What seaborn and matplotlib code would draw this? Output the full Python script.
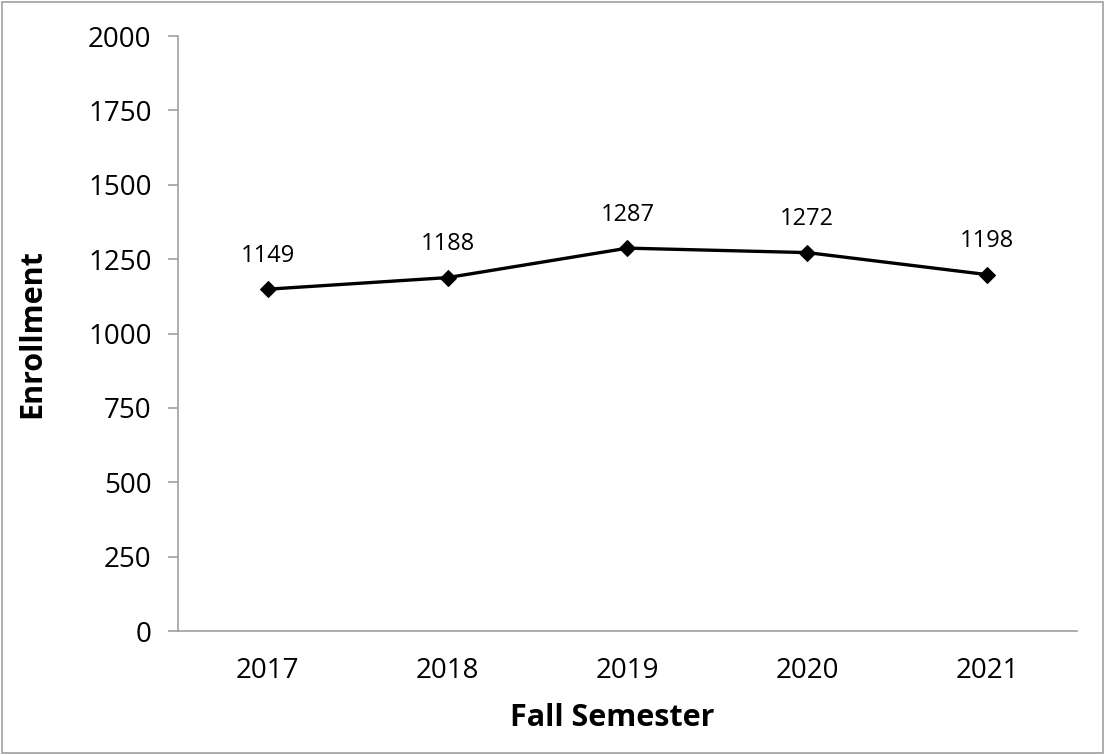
import seaborn as sns
import matplotlib.pyplot as plt
import pandas as pd
from matplotlib.patches import Rectangle

# Enrollment by fall semester
years = ['2017', '2018', '2019', '2020', '2021']
enrollment = [1149, 1188, 1287, 1272, 1198]
y_ticks = [0, 250, 500, 750, 1000, 1250, 1500, 1750, 2000]

df = pd.DataFrame({'year': years, 'enrollment': enrollment})

sns.set_style('white')
plt.rcParams['font.family'] = ['Open Sans', 'DejaVu Sans']
plt.rcParams['text.color'] = 'black'
plt.rcParams['xtick.labelcolor'] = 'black'
plt.rcParams['ytick.labelcolor'] = 'black'
plt.rcParams['axes.labelcolor'] = 'black'

fig = plt.figure(figsize=(11.05, 7.55), dpi=100)
ax = fig.add_axes([0.161, 0.1642, 0.8137, 0.7881])

sns.lineplot(data=df, x='year', y='enrollment', ax=ax, color='black',
             linewidth=2.4, marker='D', markersize=8, markeredgecolor='black')

# data labels above each point
for i, v in enumerate(enrollment):
    ax.annotate(str(v), (i, v), xytext=(0, 24), textcoords='offset points',
                ha='center', va='center', fontsize=17)

ax.set_xlim(-0.5, 4.5)
ax.set_ylim(0, 2000)
ax.set_yticks(y_ticks)
ax.set_xticks(range(len(years)))
ax.set_xticklabels(years)
ax.set_xticks([i - 0.5 for i in range(len(years) + 1)], minor=True)
ax.tick_params(axis='x', which='major', length=0, labelsize=20, pad=19)
ax.tick_params(axis='x', which='minor', length=7, width=1.2, color='#a0a0a0', direction='out')
ax.tick_params(axis='y', length=7, width=1.2, color='#a0a0a0', labelsize=20, pad=12, left=True)

for s in ['top', 'right']:
    ax.spines[s].set_visible(False)
for s in ['left', 'bottom']:
    ax.spines[s].set_color('#a0a0a0')
    ax.spines[s].set_linewidth(1.2)

ax.set_xlabel('Fall Semester', fontsize=22, fontweight='bold', va='center')
ax.set_ylabel('Enrollment', fontsize=22, fontweight='bold', va='center')
ax.xaxis.set_label_coords(0.483, -0.146)
ax.yaxis.set_label_coords(-0.162, 0.5)

fig.patches.append(Rectangle((0.002, 0.003), 0.996, 0.994, transform=fig.transFigure,
                             fill=False, edgecolor='#a0a0a0', linewidth=1.2))

fig.savefig('out.png', dpi=100)
